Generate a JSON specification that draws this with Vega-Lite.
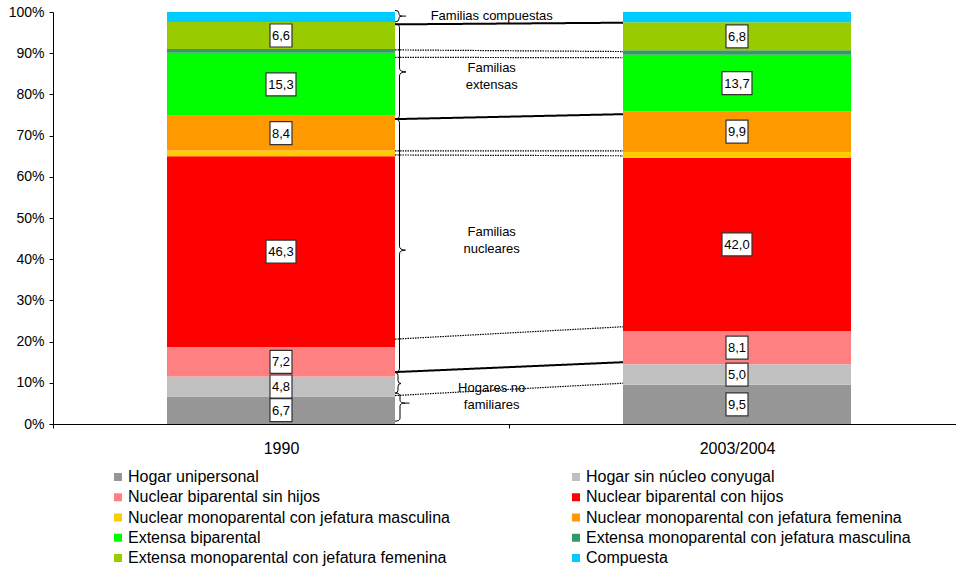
{
  "$schema": "https://vega.github.io/schema/vega-lite/v6.json",
  "autosize": {"type": "none"},
  "padding": {"left": 53, "top": 12, "right": 0, "bottom": 145},
  "width": 912,
  "height": 412,
  "config": {
    "font": "Liberation Sans",
    "view": {"stroke": null},
    "locale": {"number": {"decimal": ",", "thousands": ".", "grouping": [3], "currency": ["", ""]}},
    "axis": {"domainColor": "#000", "tickColor": "#000", "labelColor": "#000", "grid": false, "title": null}
  },
  "datasets": {
    "main": [
      {"period": "1990", "cat": "Hogar unipersonal", "ord": 1, "value": 6.7},
      {"period": "1990", "cat": "Hogar sin núcleo conyugal", "ord": 2, "value": 4.8},
      {"period": "1990", "cat": "Nuclear biparental sin hijos", "ord": 3, "value": 7.2},
      {"period": "1990", "cat": "Nuclear biparental con hijos", "ord": 4, "value": 46.3},
      {"period": "1990", "cat": "Nuclear monoparental con jefatura masculina", "ord": 5, "value": 1.4},
      {"period": "1990", "cat": "Nuclear monoparental con jefatura femenina", "ord": 6, "value": 8.4},
      {"period": "1990", "cat": "Extensa biparental", "ord": 7, "value": 15.3},
      {"period": "1990", "cat": "Extensa monoparental con jefatura masculina", "ord": 8, "value": 0.9},
      {"period": "1990", "cat": "Extensa monoparental con jefatura femenina", "ord": 9, "value": 6.6},
      {"period": "1990", "cat": "Compuesta", "ord": 10, "value": 2.4},
      {"period": "2003/2004", "cat": "Hogar unipersonal", "ord": 1, "value": 9.5},
      {"period": "2003/2004", "cat": "Hogar sin núcleo conyugal", "ord": 2, "value": 5.0},
      {"period": "2003/2004", "cat": "Nuclear biparental sin hijos", "ord": 3, "value": 8.1},
      {"period": "2003/2004", "cat": "Nuclear biparental con hijos", "ord": 4, "value": 42.0},
      {"period": "2003/2004", "cat": "Nuclear monoparental con jefatura masculina", "ord": 5, "value": 1.4},
      {"period": "2003/2004", "cat": "Nuclear monoparental con jefatura femenina", "ord": 6, "value": 9.9},
      {"period": "2003/2004", "cat": "Extensa biparental", "ord": 7, "value": 13.7},
      {"period": "2003/2004", "cat": "Extensa monoparental con jefatura masculina", "ord": 8, "value": 1.1},
      {"period": "2003/2004", "cat": "Extensa monoparental con jefatura femenina", "ord": 9, "value": 6.8},
      {"period": "2003/2004", "cat": "Compuesta", "ord": 10, "value": 2.5}
    ],
    "notes": [
      {"period": "1990", "label": "Familias compuestas", "y": 99.0},
      {"period": "1990", "label": "Familias\nextensas", "y": 86.4},
      {"period": "1990", "label": "Familias\nnucleares", "y": 46.6},
      {"period": "1990", "label": "Hogares no\nfamiliares", "y": 8.7}
    ],
    "links": [
      {"id": "c1", "kind": "grupo", "period": "1990", "v": 97.0},
      {"id": "c1", "kind": "grupo", "period": "2003/2004", "v": 97.4},
      {"id": "c2", "kind": "subgrupo", "period": "1990", "v": 90.8},
      {"id": "c2", "kind": "subgrupo", "period": "2003/2004", "v": 90.4},
      {"id": "c3", "kind": "subgrupo", "period": "1990", "v": 89.0},
      {"id": "c3", "kind": "subgrupo", "period": "2003/2004", "v": 88.9},
      {"id": "c4", "kind": "grupo", "period": "1990", "v": 74.0},
      {"id": "c4", "kind": "grupo", "period": "2003/2004", "v": 75.2},
      {"id": "c5", "kind": "subgrupo", "period": "1990", "v": 66.3},
      {"id": "c5", "kind": "subgrupo", "period": "2003/2004", "v": 66.3},
      {"id": "c6", "kind": "subgrupo", "period": "1990", "v": 65.3},
      {"id": "c6", "kind": "subgrupo", "period": "2003/2004", "v": 65.1},
      {"id": "c7", "kind": "subgrupo", "period": "1990", "v": 20.6},
      {"id": "c7", "kind": "subgrupo", "period": "2003/2004", "v": 23.6},
      {"id": "c8", "kind": "grupo", "period": "1990", "v": 12.6},
      {"id": "c8", "kind": "grupo", "period": "2003/2004", "v": 15.0},
      {"id": "c9", "kind": "subgrupo", "period": "1990", "v": 6.9},
      {"id": "c9", "kind": "subgrupo", "period": "2003/2004", "v": 9.9}
    ],
    "braces": [
      {"period": "1990", "group": "Familias compuestas", "top": 100.4},
      {"period": "1990", "group": "Familias extensas", "top": 97.1},
      {"period": "1990", "group": "Familias nucleares", "top": 74.0},
      {"period": "1990", "group": "Hogar sin núcleo", "top": 12.5},
      {"period": "1990", "group": "Hogares no familiares", "top": 7.5}
    ]
  },
  "resolve": {"scale": {"x": "independent"}},
  "layer": [
    {
      "layer": [
        {
          "data": {"name": "main"},
          "transform": [
            {"stack": "value", "groupby": ["period"], "sort": [{"field": "ord", "order": "ascending"}], "as": ["v0", "v1"]}
          ],
          "mark": {"type": "bar", "width": {"band": 0.5}},
          "encoding": {
            "x": {
              "field": "period", "type": "nominal",
              "scale": {"type": "band", "domain": ["1990", "2003/2004"], "paddingInner": 0, "paddingOuter": 0},
              "axis": {"labelAngle": 0, "labelFontSize": 16, "tickSize": 4, "tickBand": "extent", "labelPadding": 12, "domainWidth": 1}
            },
            "y": {
              "field": "v0", "type": "quantitative",
              "scale": {"domain": [0, 100], "nice": false},
              "axis": {"values": [0, 10, 20, 30, 40, 50, 60, 70, 80, 90, 100], "labelExpr": "datum.value + '%'", "labelFontSize": 14, "tickSize": 4, "labelPadding": 5}
            },
            "y2": {"field": "v1"},
            "color": {
              "field": "cat", "type": "nominal",
              "scale": {
                "domain": ["Hogar unipersonal", "Hogar sin núcleo conyugal", "Nuclear biparental sin hijos", "Nuclear biparental con hijos", "Nuclear monoparental con jefatura masculina", "Nuclear monoparental con jefatura femenina", "Extensa biparental", "Extensa monoparental con jefatura masculina", "Extensa monoparental con jefatura femenina", "Compuesta"],
                "range": ["#969696", "#C0C0C0", "#FF8080", "#FF0000", "#FFCC00", "#FF9900", "#00FF00", "#339966", "#99CC00", "#00CCFF"]
              },
              "legend": {
                "title": null, "orient": "none", "legendX": 57, "legendY": 457,
                "direction": "horizontal",
                "columns": 2, "columnPadding": 118, "rowPadding": 4.25,
                "symbolType": "square", "symbolSize": 64, "symbolStrokeWidth": 0,
                "labelFontSize": 16, "labelColor": "#000", "labelLimit": 600, "labelOffset": 2
              }
            }
          }
        },
        {
          "data": {"name": "main"},
          "transform": [
            {"stack": "value", "groupby": ["period"], "sort": [{"field": "ord", "order": "ascending"}], "as": ["v0", "v1"]},
            {"filter": "datum.value >= 4"},
            {"fold": ["v0", "v1"], "as": ["edge", "pos"]},
            {"aggregate": [{"op": "mean", "field": "pos", "as": "mid"}], "groupby": ["period", "cat", "value"]}
          ],
          "mark": {"type": "point", "filled": true, "fill": "#FFFFFF", "stroke": "#333333", "strokeWidth": 1.2, "size": 4, "opacity": 1},
          "encoding": {
            "x": {"field": "period", "type": "nominal"},
            "y": {"field": "mid", "type": "quantitative"},
            "shape": {"condition": {"test": "datum.value >= 10", "value": "M-15,-11.5H15V11.5H-15Z"}, "value": "M-11,-11.5H11V11.5H-11Z"}
          }
        },
        {
          "data": {"name": "main"},
          "transform": [
            {"stack": "value", "groupby": ["period"], "sort": [{"field": "ord", "order": "ascending"}], "as": ["v0", "v1"]},
            {"filter": "datum.value >= 4"},
            {"fold": ["v0", "v1"], "as": ["edge", "pos"]},
            {"aggregate": [{"op": "mean", "field": "pos", "as": "mid"}], "groupby": ["period", "cat", "value"]}
          ],
          "mark": {"type": "text", "fontSize": 13, "color": "#000", "baseline": "middle", "align": "center", "dy": 0.5},
          "encoding": {
            "x": {"field": "period", "type": "nominal"},
            "y": {"field": "mid", "type": "quantitative"},
            "text": {"field": "value", "type": "quantitative", "format": ".1f"}
          }
        },
        {
          "data": {"name": "notes"},
          "mark": {"type": "text", "fontSize": 13, "color": "#000", "lineBreak": "\n", "lineHeight": 16.5, "align": "center", "baseline": "middle"},
          "encoding": {
            "x": {"field": "period", "type": "nominal", "bandPosition": 0.962},
            "y": {"field": "y", "type": "quantitative"},
            "text": {"field": "label"}
          }
        }
      ]
    },
    {
      "layer": [
        {
          "data": {"name": "links"},
          "mark": {"type": "line", "color": "#000"},
          "encoding": {
            "x": {"field": "period", "type": "nominal", "scale": {"type": "band", "domain": ["1990", "2003/2004"], "paddingInner": 0, "paddingOuter": 1}, "axis": null},
            "y": {"field": "v", "type": "quantitative"},
            "detail": {"field": "id"},
            "strokeDash": {"field": "kind", "type": "nominal", "scale": {"domain": ["grupo", "subgrupo"], "range": [[1, 0], [1.5, 1]]}, "legend": null},
            "strokeWidth": {"field": "kind", "type": "ordinal", "scale": {"domain": ["grupo", "subgrupo"], "range": [2, 1.2]}, "legend": null}
          }
        },
        {
          "data": {"name": "braces"},
          "mark": {"type": "point", "filled": false, "color": "#000", "strokeWidth": 1, "size": 4, "opacity": 1},
          "encoding": {
            "x": {"field": "period", "type": "nominal", "scale": {"type": "band", "domain": ["1990", "2003/2004"], "paddingInner": 0, "paddingOuter": 1}, "axis": null},
            "y": {"field": "top", "type": "quantitative"},
            "shape": {
              "field": "group", "type": "nominal", "legend": null,
              "scale": {
                "domain": ["Familias compuestas", "Familias extensas", "Familias nucleares", "Hogar sin núcleo", "Hogares no familiares"],
                "range": [
                  "M0,0Q4,0 4,3L4,4Q4,5.75 7,5.75L11,5.75M7,5.75Q4,5.75 4,7.5L4,8.5Q4,11.5 0,11.5",
                  "M0,0Q4.5,0 4.5,4L4.5,44Q4.5,48 11,48Q4.5,48 4.5,52L4.5,91.2Q4.5,95.2 0,95.2",
                  "M0,0Q4.5,0 4.5,4L4.5,127Q4.5,131 10.5,131Q4.5,131 4.5,135L4.5,249Q4.5,253 0,253",
                  "M0,0Q3,0 3,3L3,8Q3,11 6,11Q3,11 3,14L3,17.6Q3,20.6 0,20.6",
                  "M0,0Q5,0 5,3L5,7Q5,10 10,10L14.5,10M10,10Q5,10 5,13L5,25Q5,28 0,28"
                ]
              }
            }
          }
        }
      ]
    }
  ]
}
